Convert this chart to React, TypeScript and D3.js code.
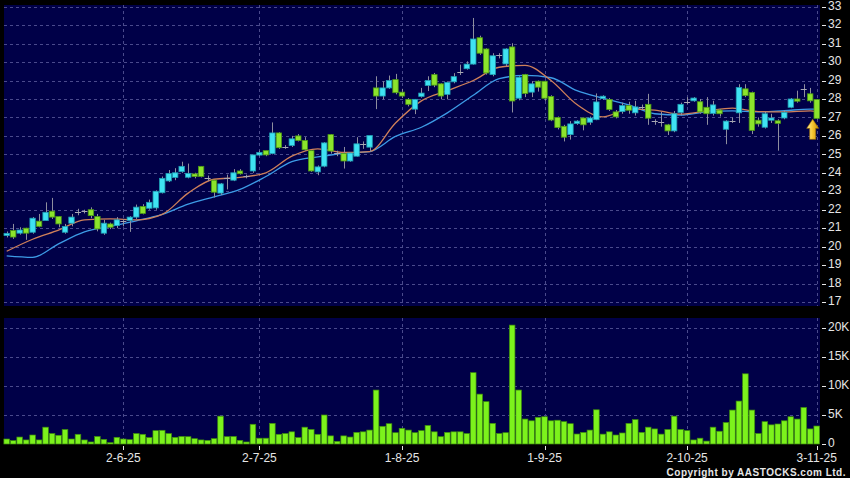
import React from 'react';
import * as d3 from 'd3';

const W = 850;
const H = 478;

// daily candles, oldest first
const opens = [
  20.6, 20.87, 20.73, 21.0, 20.78, 21.38, 21.41, 21.92, 21.63, 20.78,
  21.27, 21.9, 21.92, 22.0, 21.63, 20.73, 21.23, 21.14, 21.4, 21.42,
  21.6, 22.17, 22.08, 22.1, 22.92, 23.56, 23.75, 24.06, 23.76, 23.94,
  24.35, 23.7, 23.6, 22.9, 23.7, 23.6, 24.1, 23.8, 24.1, 24.96,
  25.2, 25.04, 26.16, 25.4, 25.48, 26.0, 25.75, 25.2, 24.05, 24.36,
  26.07, 25.07, 25.04, 24.64, 24.9, 25.55, 25.39, 28.6, 28.16, 28.6,
  29.05, 28.37, 27.98, 27.45, 28.14, 28.73, 29.32, 28.82, 28.25, 28.93,
  29.46, 29.64, 29.89, 31.32, 30.71, 29.32, 30.39, 29.9, 30.82, 28.04,
  29.32, 28.37, 28.96, 28.96, 28.14, 27.0, 26.52, 26.07, 26.67, 26.97,
  26.74, 26.88, 28.02, 27.97, 27.3, 27.32, 27.64, 27.25, 27.54, 27.71,
  26.82, 26.75, 26.6, 26.27, 27.27, 27.86, 27.9, 27.85, 27.55, 27.22,
  27.4, 26.36, 26.82, 27.25, 28.55, 28.35, 26.85, 26.47, 26.85, 26.82,
  26.97, 27.55, 28.0, 28.55, 28.28, 27.97,
];
const highs = [
  20.82, 21.23, 21.05, 21.02, 21.6, 21.77, 22.4, 22.64, 21.65, 21.23,
  21.77, 22.05, 22.0, 22.13, 21.77, 21.45, 21.3, 21.6, 21.5, 21.65,
  22.28, 22.3, 22.55, 23.05, 23.8, 24.15, 24.25, 24.6, 24.5, 24.0,
  24.35, 23.85, 23.6, 23.45, 23.9, 24.2, 24.2, 23.9, 24.97, 25.2,
  25.2, 26.73, 26.2, 25.5, 26.0, 26.1, 25.93, 25.2, 24.4, 25.66,
  26.1, 25.2, 25.4, 25.12, 25.93, 25.7, 26.02, 29.23, 28.96, 29.27,
  29.36, 28.55, 28.05, 28.0, 28.6, 29.23, 29.41, 28.85, 28.95, 29.4,
  29.86, 30.04, 32.39, 31.43, 30.75, 30.48, 30.48, 30.75, 31.02, 29.23,
  29.36, 28.96, 29.0, 29.0, 28.2, 27.05, 26.6, 26.8, 26.85, 27.0,
  27.05, 28.3, 28.2, 28.05, 27.4, 27.8, 27.85, 27.9, 27.7, 28.28,
  26.9, 27.3, 26.65, 27.35, 27.8, 28.1, 28.1, 28.0, 28.1, 27.9,
  27.45, 26.85, 27.0, 28.8, 28.8, 28.4, 27.0, 27.3, 27.2, 26.9,
  27.4, 28.05, 28.45, 28.8, 28.6, 28.0,
];
const lows = [
  20.5, 20.42, 20.65, 20.37, 20.7, 21.05, 21.4, 21.5, 21.05, 20.7,
  21.1, 21.7, 21.8, 21.54, 20.83, 20.64, 20.95, 21.0, 21.1, 20.8,
  21.5, 21.75, 22.0, 22.0, 22.88, 23.5, 23.6, 24.0, 23.7, 23.7,
  23.75, 23.55, 22.66, 22.8, 23.1, 23.55, 23.9, 23.7, 24.0, 24.9,
  24.9, 25.0, 25.3, 25.3, 25.4, 25.7, 25.2, 24.05, 23.87, 24.3,
  25.04, 24.9, 24.23, 24.6, 24.88, 25.3, 25.12, 27.45, 27.98, 28.55,
  28.25, 28.05, 27.6, 27.18, 28.07, 28.43, 28.64, 27.98, 27.98, 28.85,
  29.3, 29.59, 29.86, 30.39, 29.32, 29.23, 30.2, 29.77, 27.27, 27.93,
  28.1, 28.1, 28.4, 27.9, 26.8, 26.35, 25.7, 25.8, 26.6, 26.3,
  26.6, 26.85, 27.95, 27.35, 26.95, 27.2, 27.2, 27.1, 27.4, 26.6,
  26.6, 26.5, 26.05, 26.2, 27.1, 27.7, 27.85, 27.2, 26.6, 27.1,
  27.05, 25.55, 26.7, 26.7, 28.1, 26.1, 26.5, 26.4, 26.7, 25.2,
  26.9, 27.5, 27.8, 28.1, 27.8, 26.9,
];
const closes = [
  20.72, 20.52, 20.9, 20.73, 21.54, 21.1, 21.86, 21.6, 21.23, 21.09,
  21.6, 21.9, 21.92, 21.68, 20.96, 21.27, 21.05, 21.45, 21.4, 21.6,
  22.14, 21.8, 22.4, 23.0, 23.7, 23.96, 24.0, 24.35, 23.97, 23.8,
  23.8, 23.7, 22.95, 23.4, 23.7, 24.0, 23.95, 23.8, 24.97, 25.1,
  24.97, 26.16, 25.36, 25.4, 25.84, 25.75, 25.25, 24.1, 24.32, 25.62,
  25.18, 25.07, 24.64, 25.07, 25.57, 25.55, 26.02, 28.16, 28.6, 29.0,
  28.34, 28.16, 27.71, 27.98, 28.32, 29.0, 28.75, 28.16, 28.9, 29.21,
  29.46, 29.89, 31.25, 30.48, 29.41, 30.34, 30.39, 30.71, 27.89, 29.18,
  28.3, 28.82, 28.64, 28.04, 26.86, 26.45, 25.93, 26.65, 26.8, 26.6,
  26.97, 27.84, 28.15, 27.43, 27.03, 27.64, 27.39, 27.57, 27.54, 26.96,
  26.82, 26.75, 26.27, 27.2, 27.71, 27.86, 28.05, 27.3, 27.2, 27.68,
  27.2, 26.8, 26.82, 28.62, 28.18, 26.3, 26.65, 27.2, 26.97, 26.68,
  27.28, 28.0, 27.88, 28.55, 27.9, 26.95,
];
// volume in thousands of shares
const volumes = [
  0.86, 0.58, 1.2, 0.7, 1.55, 0.7, 2.9, 1.8, 1.5, 2.5,
  0.86, 1.67, 0.7, 0.35, 1.3, 0.8, 0.23, 1.15, 0.86, 0.75,
  1.8, 1.67, 1.1, 2.3, 2.36, 1.8, 1.15, 1.3, 1.26, 0.92,
  0.7, 0.63, 0.92, 4.8, 1.26, 1.3, 0.63, 0.35, 3.4, 1.0,
  1.0, 3.56, 1.67, 1.8, 2.1, 1.1, 2.9, 2.5, 1.67, 5.0,
  1.4, 0.46, 1.4, 1.2, 2.0, 2.1, 2.4, 9.3, 3.05, 3.5,
  1.95, 2.7, 2.4, 1.95, 2.3, 3.2, 2.1, 1.26, 2.0, 2.1,
  2.1, 1.8, 12.3, 8.6, 7.3, 3.56, 1.8, 1.95, 20.5, 9.3,
  4.3, 4.0, 4.6, 4.7, 4.0, 4.1, 3.85, 3.5, 1.72, 2.0,
  2.4, 5.9, 1.7, 2.1, 1.55, 1.9, 3.56, 4.2, 2.0, 2.9,
  2.6, 1.7, 2.5, 4.8, 2.5, 2.3, 0.7, 1.0, 0.5, 2.9,
  2.2, 3.7, 5.85, 7.4, 12.1, 5.85, 1.8, 3.85, 3.3, 3.45,
  4.0, 4.7, 4.3, 6.3, 2.6, 3.1,
];

// moving averages, one value every 4 bars
const maIdx = [0, 4, 8, 12, 16, 20, 24, 28, 32, 36, 40, 44, 48, 52, 56, 60, 64, 68, 72, 76, 80, 84, 88, 92, 96, 100, 104, 108, 112, 116, 120, 124, 125];
const maShort = [19.75, 20.4, 20.9, 21.45, 21.5, 21.45, 21.75, 22.9, 23.65, 23.75, 24.0, 24.9, 25.3, 25.1, 25.15, 26.7, 27.9, 28.45, 29.0, 29.72, 29.82, 29.0, 27.7, 27.03, 27.45, 27.4, 27.18, 27.35, 27.5, 27.32, 27.3, 27.36, 27.3];
const maLong = [19.5, 19.42, 20.15, 20.8, 21.1, 21.4, 21.75, 22.3, 22.7, 23.1, 23.8, 24.6, 24.86, 25.06, 25.15, 25.97, 26.47, 27.25, 28.2, 29.1, 29.28, 29.15, 28.45, 28.05, 27.68, 27.2, 27.12, 27.3, 27.36, 27.3, 27.37, 27.45, 27.45];

const dateLabels = ['2-6-25', '2-7-25', '1-8-25', '1-9-25', '2-10-25', '3-11-25'];
const dateIdx = [18, 39, 61, 83, 105, 125];
const priceTicks = [17, 18, 19, 20, 21, 22, 23, 24, 25, 26, 27, 28, 29, 30, 31, 32, 33];
const volTicks = [0, 5, 10, 15, 20];
const volLabels = ['0', '5K', '10K', '15K', '20K'];

const PLOT_L = 4;
const PLOT_R = 820;
const MAIN_T = 5;
const MAIN_B = 306;
const VOL_T = 318;
const VOL_B = 444;

const BG = '#000048';
const GRID = '#4a4a8c';
const UP = '#3fe2f2';
const UP_EDGE = '#1f9fb4';
const DOWN = '#8ce42c';
const DOWN_EDGE = '#4c9a14';
const WICK = '#8e8e9e';
const TEXT = '#e6e6e6';
const FONT = '"Liberation Sans", Arial, sans-serif';

const crisp = (v: number) => Math.round(v) + 0.5;

export default function App() {
  const x = d3.scaleLinear().domain([0, closes.length - 1]).range([6.7, 816.7]);
  const yP = d3.scaleLinear().domain([17, 33]).range([302, 6.7]);
  const yV = d3.scaleLinear().domain([0, 20]).range([VOL_B, 328]);

  const line = (vals: number[]) =>
    d3.line<number>()
      .x((_, k) => x(maIdx[k]))
      .y((d) => yP(d))
      .curve(d3.curveMonotoneX)(vals) || '';

  const last = closes.length - 1;
  const ax = x(last) - 4;
  const ay = yP(closes[last]) + 1;
  const arrow = [
    [ax, ay], [ax + 6, ay + 9], [ax + 3, ay + 9], [ax + 3, ay + 20],
    [ax - 3, ay + 20], [ax - 3, ay + 9], [ax - 6, ay + 9],
  ].map((p) => p.join(',')).join(' ');

  return (
    <svg width={W} height={H} style={{ position: 'absolute', left: 0, top: 0, background: '#000', display: 'block' }}>
      <defs>
        <linearGradient id="arrowFill" x1="0" y1="0" x2="1" y2="0">
          <stop offset="0" stopColor="#fff2a0" />
          <stop offset="0.5" stopColor="#f7c531" />
          <stop offset="1" stopColor="#c98a00" />
        </linearGradient>
      </defs>
      <rect x={0} y={0} width={W} height={H} fill="#000" />
      <rect x={PLOT_L} y={MAIN_T} width={PLOT_R - PLOT_L} height={MAIN_B - MAIN_T} fill={BG} />
      <rect x={PLOT_L} y={VOL_T} width={PLOT_R - PLOT_L} height={VOL_B - VOL_T} fill={BG} />

      {/* grid */}
      <g stroke={GRID} strokeWidth={1} strokeDasharray="3,3" fill="none">
        {priceTicks.map((t) => (
          <line key={'hp' + t} x1={PLOT_L} x2={PLOT_R} y1={crisp(yP(t))} y2={crisp(yP(t))} />
        ))}
        {volTicks.slice(1).map((t) => (
          <line key={'hv' + t} x1={PLOT_L} x2={PLOT_R} y1={crisp(yV(t))} y2={crisp(yV(t))} />
        ))}
        {dateIdx.map((d) => (
          <g key={'v' + d}>
            <line x1={crisp(x(d))} x2={crisp(x(d))} y1={MAIN_T} y2={MAIN_B} />
            <line x1={crisp(x(d))} x2={crisp(x(d))} y1={VOL_T} y2={VOL_B} />
          </g>
        ))}
      </g>

      {/* moving averages */}
      <path d={line(maLong)} fill="none" stroke="#3d9be6" strokeWidth={1.3} />
      <path d={line(maShort)} fill="none" stroke="#d0805a" strokeWidth={1.3} />

      {/* candles */}
      <g>
        {closes.map((c, i) => {
          const o = opens[i];
          const cx = x(i);
          const wx = crisp(cx);
          const wick = (
            <line x1={wx} x2={wx} y1={yP(highs[i])} y2={yP(lows[i])} stroke={WICK} strokeWidth={1} />
          );
          if (Math.abs(c - o) < 0.005) {
            return (
              <g key={i}>
                {wick}
                <line x1={cx - 3} x2={cx + 3} y1={crisp(yP(c))} y2={crisp(yP(c))} stroke="#a8a8b4" strokeWidth={1} />
              </g>
            );
          }
          const up = c > o;
          const top = yP(Math.max(o, c));
          const bot = yP(Math.min(o, c));
          return (
            <g key={i}>
              {wick}
              <rect x={cx - 2.7} y={top} width={5.4} height={Math.max(1, bot - top)}
                fill={up ? UP : DOWN} stroke={up ? UP_EDGE : DOWN_EDGE} strokeWidth={0.8} />
            </g>
          );
        })}
      </g>

      <polygon points={arrow} fill="url(#arrowFill)" stroke="#a87400" strokeWidth={0.6} />

      {/* volume */}
      <g>
        {volumes.map((v, i) => (
          <rect key={i} x={x(i) - 2.8} y={yV(v)} width={5.6} height={VOL_B - yV(v)}
            fill="#7cf21c" stroke="#3e8e0c" strokeWidth={0.7} />
        ))}
      </g>

      {/* right axes */}
      <g fontFamily={FONT} fontSize={12} fill={TEXT}>
        {priceTicks.map((t) => (
          <g key={'pt' + t}>
            <line x1={822} x2={826} y1={crisp(yP(t))} y2={crisp(yP(t))} stroke={TEXT} strokeWidth={1} />
            <text x={828} y={yP(t)} dominantBaseline="middle">{t}</text>
          </g>
        ))}
        {volTicks.map((t, k) => (
          <g key={'vt' + t}>
            <line x1={822} x2={826} y1={crisp(yV(t))} y2={crisp(yV(t))} stroke={TEXT} strokeWidth={1} />
            <text x={828} y={yV(t)} dominantBaseline="middle">{volLabels[k]}</text>
          </g>
        ))}
      </g>

      {/* date axis */}
      <g fontFamily={FONT} fontSize={12} fill={TEXT}>
        {dateIdx.map((d, k) => (
          <g key={'dt' + d}>
            <line x1={crisp(x(d))} x2={crisp(x(d))} y1={446} y2={450} stroke={TEXT} strokeWidth={1} />
            <text x={x(d)} y={462} textAnchor="middle">{dateLabels[k]}</text>
          </g>
        ))}
      </g>

      <text x={846} y={476} textAnchor="end" fontFamily={FONT} fontSize={10} fontWeight="bold" letterSpacing={0.5} fill={TEXT}>
        Copyright by AASTOCKS.com Ltd.
      </text>
    </svg>
  );
}
